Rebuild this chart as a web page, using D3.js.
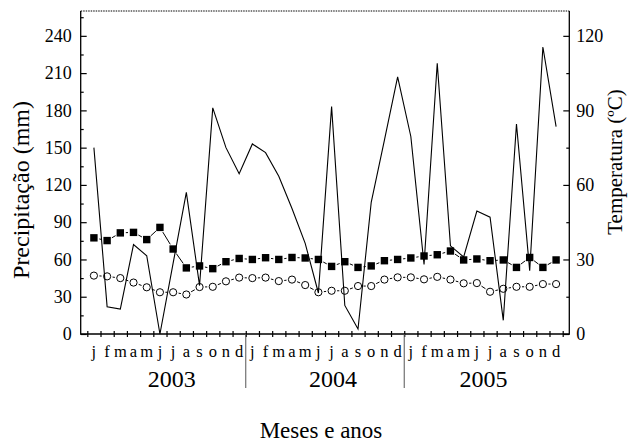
<!DOCTYPE html>
<html>
<head>
<meta charset="utf-8">
<script src="https://cdn.jsdelivr.net/npm/d3@7"></script>
<style>
	body { margin: 0; background: white; }
	text { font-family: 'Liberation Serif', 'Times New Roman', serif; fill: black; }
</style>
</head>
<body>
<script>
var months = ['j', 'f', 'm', 'a', 'm', 'j', 'j', 'a', 's', 'o', 'n', 'd']
var years = ['2003', '2004', '2005']
// where each year label sits, in month index units
var yearCenters = [5.9, 18.1, 29.5]

// precipitation (mm), jan 2003 - dec 2005
var precip = [150, 22, 20, 72, 63, 0, 57, 114, 39, 182, 150, 129,
	153, 146, 127, 101, 73, 33, 183, 23, 4, 106, 156, 207,
	159, 56, 218, 71, 62, 99, 94, 11, 169, 51, 231, 167]

// temperature (C)
var tempMax = [38.7, 37.6, 40.7, 40.9, 38, 42.9, 34.2, 26.6, 27.4, 26.3, 29.1, 30.4,
	30, 30.7, 30, 30.8, 30.6, 30, 27.2, 29.1, 26.8, 27.4, 29.5, 30,
	30.6, 31.4, 31.9, 33.4, 29.8, 30.2, 29.5, 29.8, 26.8, 30.8, 26.8, 29.8]
var tempMin = [23.5, 23.2, 22.5, 20.7, 18.8, 16.8, 16.8, 15.9, 18.9, 19, 21.2, 22.7,
	22.5, 22.7, 21.3, 21.9, 19.7, 16.8, 17.4, 17.4, 19.3, 19.3, 21.9, 22.8,
	22.8, 22, 23, 21.9, 20.4, 20.5, 17, 18.2, 19, 19, 20.1, 20.1]

var leftTicks = [0, 30, 60, 90, 120, 150, 180, 210, 240]
var rightTicks = [0, 30, 60, 90, 120]

var width = 629
var height = 445
var plotL = 80.7, plotR = 569.3, plotT = 11, plotB = 334

var svg = d3.select('body')
	.append('svg')
	.attr('width', width)
	.attr('height', height)

var x = d3.scaleLinear().domain([-1, 36]).range([plotL, plotR])
var yL = d3.scaleLinear().domain([0, 260]).range([plotB, plotT])
var yR = d3.scaleLinear().domain([0, 130]).range([plotB, plotT])

// frame
svg.append('line')
	.attr('x1', plotL).attr('x2', plotR).attr('y1', plotT).attr('y2', plotT)
	.style('stroke', 'black').style('stroke-dasharray', '1.5,1')
svg.append('path')
	.attr('d', `M${plotL},${plotT}V${plotB}H${plotR}V${plotT}`)
	.style('fill', 'none').style('stroke', 'black').style('stroke-width', 1.3)

// left axis
var gL = svg.append('g').attr('transform', `translate(${plotL},0)`)
gL.call(d3.axisLeft(yL).tickValues(leftTicks).tickSizeInner(-6).tickSizeOuter(0).tickPadding(9))
gL.append('g').call(d3.axisLeft(yL).tickValues(leftTicks.map(d => d + 15)).tickSizeInner(-3).tickSizeOuter(0).tickFormat(''))

// right axis
var gR = svg.append('g').attr('transform', `translate(${plotR},0)`)
gR.call(d3.axisRight(yR).tickValues(rightTicks).tickSizeInner(-6).tickSizeOuter(0).tickPadding(7))
gR.append('g').call(d3.axisRight(yR).tickValues(rightTicks.map(d => d + 15)).tickSizeInner(-3).tickSizeOuter(0).tickFormat(''))

// bottom ticks cross the axis line
var gB = svg.append('g').attr('transform', `translate(0,${plotB})`)
gB.call(d3.axisBottom(x).tickValues(d3.range(-0.5, 36, 1)).tickSizeInner(3).tickSizeOuter(0).tickFormat(''))
gB.selectAll('.tick line').attr('y1', -3)

svg.selectAll('.domain').remove()
svg.selectAll('.tick line').style('stroke', 'black').style('stroke-width', 1.2)
svg.selectAll('.tick text')
	.style('font-family', "'Liberation Serif', 'Times New Roman', serif")
	.style('font-size', '18px')
	.style('fill', 'black')

// month letters
svg.append('g')
	.selectAll('text')
	.data(d3.range(36))
	.enter()
	.append('text')
	.attr('x', d => x(d))
	.attr('y', 357)
	.attr('text-anchor', 'middle')
	.style('font-size', '16.5px')
	.text(d => months[d % 12])

// year separators and labels
svg.append('g')
	.selectAll('line')
	.data([11.5, 23.5])
	.enter()
	.append('line')
	.attr('x1', d => x(d)).attr('x2', d => x(d))
	.attr('y1', plotB).attr('y2', 388)
	.style('stroke', '#555')
	.style('stroke-width', 1)

svg.append('g')
	.selectAll('text')
	.data(years)
	.enter()
	.append('text')
	.attr('x', (d, i) => x(yearCenters[i]))
	.attr('y', 387)
	.attr('text-anchor', 'middle')
	.style('font-size', '24px')
	.text(d => d)

svg.append('text')
	.attr('x', 321)
	.attr('y', 438)
	.attr('text-anchor', 'middle')
	.style('font-size', '23px')
	.text('Meses e anos')

svg.append('text')
	.attr('transform', 'translate(29,190) rotate(-90)')
	.attr('text-anchor', 'middle')
	.style('font-size', '24px')
	.text('Precipitação (mm)')

svg.append('text')
	.attr('transform', 'translate(622,162) rotate(-90)')
	.attr('text-anchor', 'middle')
	.style('font-size', '21px')
	.text('Temperatura (ºC)')

// temperature lines, drawn with a small gap at each marker
function gapSegments(values, gap) {
	var segs = []
	for (var i = 0; i < values.length - 1; i++) {
		var x1 = x(i), y1 = yR(values[i]), x2 = x(i + 1), y2 = yR(values[i + 1])
		var len = Math.hypot(x2 - x1, y2 - y1)
		if (len <= 2 * gap) continue
		var ux = (x2 - x1) / len, uy = (y2 - y1) / len
		segs.push([x1 + ux * gap, y1 + uy * gap, x2 - ux * gap, y2 - uy * gap])
	}
	return segs
}

svg.append('g')
	.selectAll('line')
	.data(gapSegments(tempMax, 5.5).concat(gapSegments(tempMin, 5.5)))
	.enter()
	.append('line')
	.attr('x1', d => d[0]).attr('y1', d => d[1])
	.attr('x2', d => d[2]).attr('y2', d => d[3])
	.style('stroke', 'black')
	.style('stroke-width', 1)

svg.append('g')
	.selectAll('rect')
	.data(tempMax)
	.enter()
	.append('rect')
	.attr('x', (d, i) => x(i) - 3.7)
	.attr('y', d => yR(d) - 3.7)
	.attr('width', 7.4)
	.attr('height', 7.4)
	.style('fill', 'black')

svg.append('g')
	.selectAll('circle')
	.data(tempMin)
	.enter()
	.append('circle')
	.attr('cx', (d, i) => x(i))
	.attr('cy', d => yR(d))
	.attr('r', 3.6)
	.style('fill', 'white')
	.style('stroke', 'black')
	.style('stroke-width', 1)

// precipitation
svg.append('path')
	.datum(precip)
	.attr('d', d3.line()
		.x((d, i) => x(i))
		.y(d => yL(d))
	)
	.style('fill', 'none')
	.style('stroke', 'black')
	.style('stroke-width', 1.1)
</script>
</body>
</html>
